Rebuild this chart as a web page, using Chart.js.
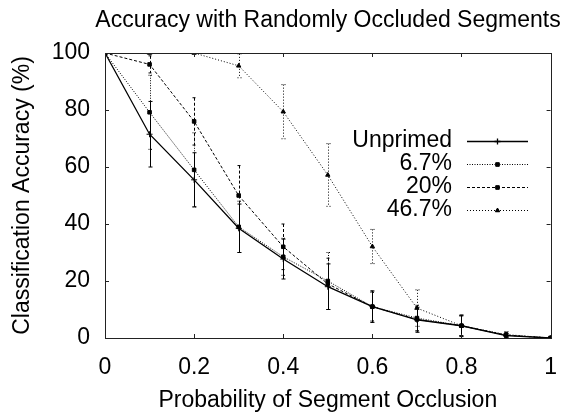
<!DOCTYPE html>
<html>
<head>
<meta charset="utf-8">
<script src="https://cdn.jsdelivr.net/npm/chart.js@4.4.0/dist/chart.umd.min.js"></script>
<style>
  body { margin: 0; background: #fff; }
  canvas { display: block; }
</style>
</head>
<body>
<canvas id="occlusionChart" width="573" height="415"></canvas>
<script>
// Datos
const occlusion = [0, 0.1, 0.2, 0.3, 0.4, 0.5, 0.6, 0.7, 0.8, 0.9, 1];
const seriesNames = ['Unprimed', '6.7%', '20%', '46.7%'];

const unprimed    = [100, 71.5, 55.5, 38.5, 27.7, 18, 11, 6.4, 4.3, 0.8, 0];
const unprimedErr = [0, 11.5, 9.5, 8.5, 7, 8, 5.5, 4.4, 3.8, 0.8, 0];
const primed67    = [100, 79.2, 59, 39, 28.5, 20, 11, 7, 4.3, 1, 0];
const primed67Err = [0, 13, 13, 9, 6.5, 10, 5, 4.5, 3.5, 1, 0];
const primed20    = [100, 96, 76, 50, 32, 19, 11, 6.5, 4.3, 1, 0];
const primed20Err = [0, 3, 8.3, 10.5, 8, 9, 5.5, 4, 3.5, 1, 0];
const primed467    = [100, 100, 100, 95.5, 79.4, 57.2, 32.1, 10.5, 4.3, 1.2, 0];
const primed467Err = [0, 0, 0, 4.2, 9.5, 11, 6, 6.4, 3.5, 1, 0];

const xTicks = [0, 0.2, 0.4, 0.6, 0.8, 1];
const yTicks = [0, 20, 40, 60, 80, 100];

const FONT = 'Liberation Sans, Arial, Helvetica, sans-serif';
const FONT_SIZE = 23;

function toPoints(values) {
    return occlusion.map((x, i) => ({ x: x, y: values[i] }));
}

function makeDataset(label, values, errors, dash, style, radius, width) {
    return {
        label: label,
        data: toPoints(values),
        errors: errors,
        borderColor: '#000',
        backgroundColor: '#000',
        borderWidth: width,
        borderDash: dash,
        pointStyle: style,
        pointRadius: radius,
        pointBorderWidth: 1,
        pointBorderColor: '#000',
        pointBackgroundColor: '#000',
        tension: 0,
        fill: false
    };
}

const datasets = [
    makeDataset(seriesNames[0], unprimed, unprimedErr, [], 'cross', 3, 1.3),
    makeDataset(seriesNames[1], primed67, primed67Err, [1, 1.5], 'rect', 2.5, 1),
    makeDataset(seriesNames[2], primed20, primed20Err, [3, 2], 'rect', 2.5, 1),
    makeDataset(seriesNames[3], primed467, primed467Err, [1, 2], 'triangle', 2.5, 1)
];

// Barras de error, dibujadas con las escalas del gráfico
const errorBars = {
    id: 'errorBars',
    beforeDatasetsDraw(chart) {
        const ctx = chart.ctx;
        const xs = chart.scales.x, ys = chart.scales.y;
        ctx.save();
        chart.data.datasets.forEach(ds => {
            ctx.strokeStyle = '#000';
            ctx.lineWidth = 1;
            ctx.setLineDash(ds.borderDash);
            ds.data.forEach((p, i) => {
                const e = ds.errors[i];
                if (!e) return;
                const px = Math.round(xs.getPixelForValue(p.x)) + 0.5;
                const top = ys.getPixelForValue(Math.min(p.y + e, 100));
                const bot = ys.getPixelForValue(Math.max(p.y - e, 0));
                ctx.beginPath();
                ctx.moveTo(px, top);
                ctx.lineTo(px, bot);
                ctx.moveTo(px - 2, top);
                ctx.lineTo(px + 2, top);
                ctx.moveTo(px - 2, bot);
                ctx.lineTo(px + 2, bot);
                ctx.stroke();
            });
        });
        ctx.restore();
    }
};

// Marco con marcas hacia dentro (estilo gnuplot)
const frame = {
    id: 'frame',
    afterDatasetsDraw(chart) {
        const ctx = chart.ctx;
        const a = chart.chartArea;
        const xs = chart.scales.x, ys = chart.scales.y;
        ctx.save();
        ctx.strokeStyle = '#222';
        ctx.lineWidth = 1;
        ctx.setLineDash([]);
        ctx.strokeRect(Math.round(a.left) + 0.5, Math.round(a.top) + 0.5,
            Math.round(a.right - a.left), Math.round(a.bottom - a.top));
        ctx.beginPath();
        xTicks.forEach(v => {
            const px = Math.round(xs.getPixelForValue(v)) + 0.5;
            ctx.moveTo(px, a.bottom); ctx.lineTo(px, a.bottom - 4);
            ctx.moveTo(px, a.top); ctx.lineTo(px, a.top + 4);
        });
        yTicks.forEach(v => {
            const py = Math.round(ys.getPixelForValue(v)) + 0.5;
            ctx.moveTo(a.left, py); ctx.lineTo(a.left + 4, py);
            ctx.moveTo(a.right, py); ctx.lineTo(a.right - 4, py);
        });
        ctx.stroke();
        ctx.restore();
    }
};

// Título y leyenda dentro del área, texto alineado a la derecha
const titleAndLegend = {
    id: 'titleAndLegend',
    afterDraw(chart) {
        const ctx = chart.ctx;
        ctx.save();
        ctx.font = FONT_SIZE + 'px ' + FONT;
        ctx.fillStyle = '#000';
        ctx.textBaseline = 'middle';
        ctx.textAlign = 'center';
        ctx.fillText('Accuracy with Randomly Occluded Segments', 328, 21);

        ctx.textAlign = 'right';
        chart.data.datasets.forEach((ds, i) => {
            const y = 141 + i * 23;
            ctx.fillText(ds.label, 452, y);
            ctx.strokeStyle = '#000';
            ctx.lineWidth = ds.borderWidth;
            ctx.setLineDash(ds.borderDash);
            ctx.beginPath();
            ctx.moveTo(467, y + 0.5);
            ctx.lineTo(528, y + 0.5);
            ctx.stroke();
            ctx.setLineDash([]);
            Chart.helpers.drawPoint(ctx, {
                pointStyle: ds.pointStyle,
                radius: ds.pointRadius,
                borderWidth: 1,
                rotation: 0
            }, 497.5, y + 0.5);
            ctx.fill();
        });
        ctx.restore();
    }
};

new Chart(document.getElementById('occlusionChart'), {
    type: 'line',
    data: { datasets: datasets },
    plugins: [errorBars, frame, titleAndLegend],
    options: {
        responsive: false,
        animation: false,
        layout: { padding: { left: 0, right: 16, top: 53, bottom: 0 } },
        plugins: {
            legend: { display: false },
            tooltip: { enabled: false },
            title: { display: false }
        },
        scales: {
            x: {
                type: 'linear',
                min: 0,
                max: 1,
                afterFit: function(scale) { scale.height = 77; },
                afterBuildTicks: function(scale) {
                    scale.ticks = xTicks.map(v => ({ value: v }));
                },
                grid: { display: false, drawTicks: false },
                border: { display: false },
                ticks: {
                    color: '#000',
                    padding: 16,
                    maxRotation: 0,
                    font: { family: FONT, size: FONT_SIZE },
                    callback: v => String(v)
                },
                title: {
                    display: true,
                    text: 'Probability of Segment Occlusion',
                    color: '#000',
                    font: { family: FONT, size: FONT_SIZE },
                    padding: { top: 0, bottom: 1 }
                }
            },
            y: {
                min: 0,
                max: 100,
                afterFit: function(scale) { scale.width = 105; },
                afterBuildTicks: function(scale) {
                    scale.ticks = yTicks.map(v => ({ value: v }));
                },
                grid: { display: false, drawTicks: false },
                border: { display: false },
                ticks: {
                    color: '#000',
                    padding: 15,
                    font: { family: FONT, size: FONT_SIZE }
                },
                title: {
                    display: true,
                    text: 'Classification Accuracy (%)',
                    color: '#000',
                    font: { family: FONT, size: FONT_SIZE },
                    padding: { top: 9, bottom: 0 }
                }
            }
        }
    }
});
</script>
</body>
</html>
